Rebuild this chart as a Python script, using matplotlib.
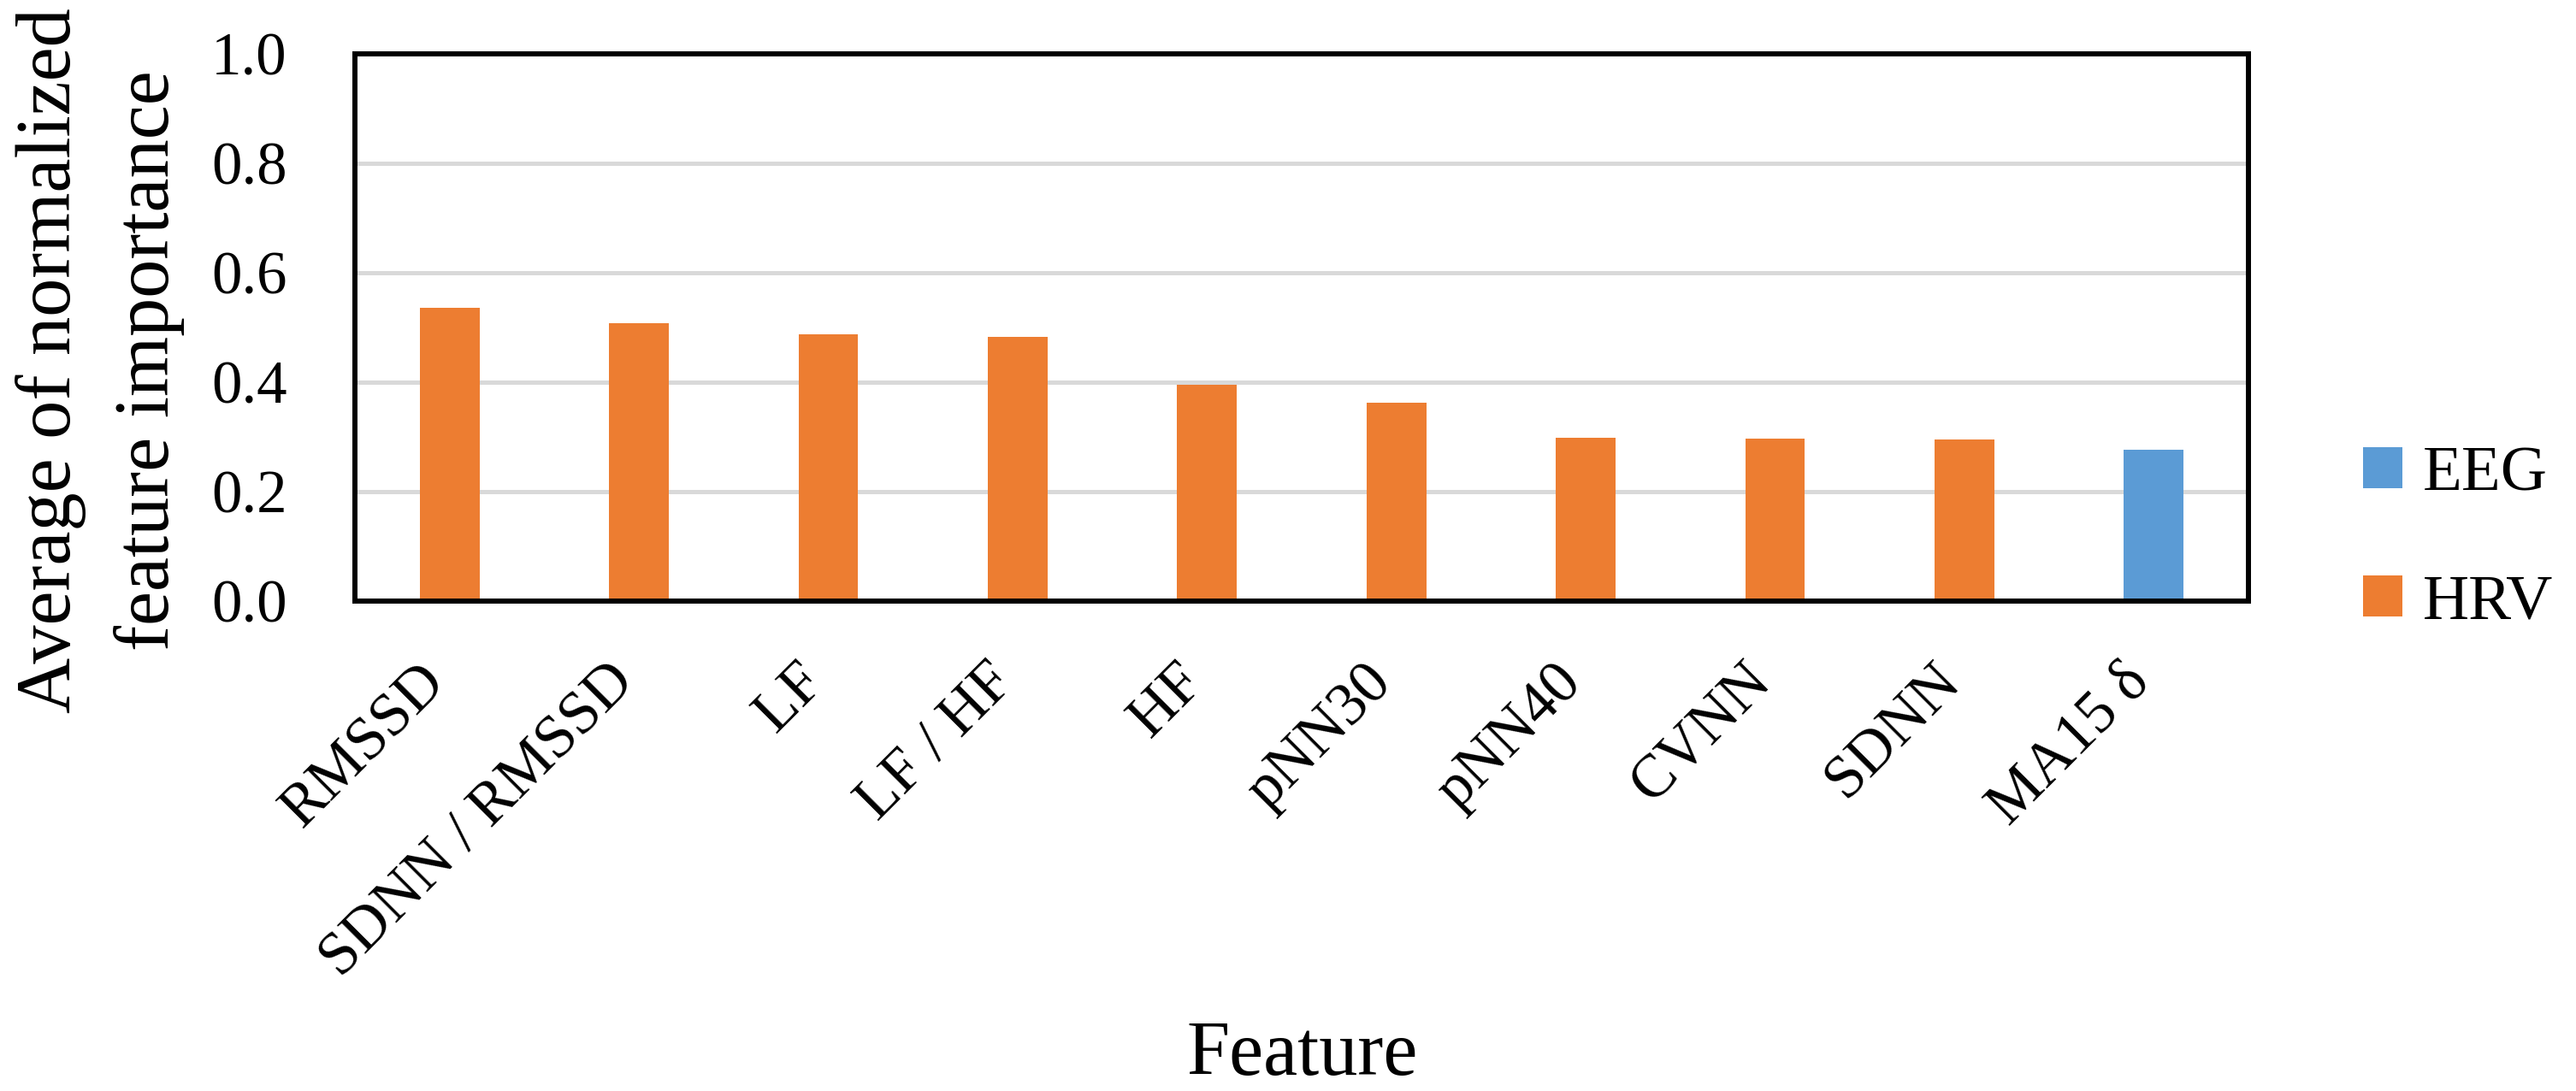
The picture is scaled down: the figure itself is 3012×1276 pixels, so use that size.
import matplotlib
matplotlib.use("Agg")
import matplotlib.pyplot as plt
import matplotlib.transforms as mtransforms
from matplotlib.patches import Patch

plt.rcParams['font.family'] = ['Liberation Serif', 'DejaVu Serif']

features = ["RMSSD", "SDNN / RMSSD", "LF", "LF / HF", "HF", "pNN30", "pNN40", "CVNN", "SDNN", "MA15 δ"]
values = [0.536, 0.508, 0.488, 0.483, 0.396, 0.363, 0.299, 0.297, 0.295, 0.277]
groups = ["HRV", "HRV", "HRV", "HRV", "HRV", "HRV", "HRV", "HRV", "HRV", "EEG"]
legend_groups = ["EEG", "HRV"]
yticks = [0.0, 0.2, 0.4, 0.6, 0.8, 1.0]
ytick_labels = ["0.0", "0.2", "0.4", "0.6", "0.8", "1.0"]
ylabel_lines = ["Average of normalized", "feature importance"]
xlabel = "Feature"

colors = {"EEG": "#5B9BD5", "HRV": "#ED7D31"}

W, H = 3012, 1276
fig = plt.figure(figsize=(W / 100, H / 100), dpi=100)
ax = fig.add_axes([415 / W, 1 - 703 / H, (2629 - 415) / W, (703 - 63) / H])

x = list(range(len(features)))
ax.bar(x, values, width=0.316, color=[colors[g] for g in groups], zorder=3)

ax.set_xlim(-0.5, len(features) - 0.5)
ax.set_ylim(0, 1.0)
ax.set_yticks(yticks)
ax.set_yticklabels(ytick_labels)
ax.set_xticks(x)
ax.set_xticklabels(features, rotation=45, ha='right', va='top')
ax.tick_params(axis='y', length=0, pad=57, labelsize=51)
ax.tick_params(axis='x', length=0, pad=44, labelsize=51)
offset = mtransforms.ScaledTranslation(8 / 100, 0, fig.dpi_scale_trans)
for lbl in ax.get_xticklabels():
    lbl.set_transform(lbl.get_transform() + offset)

ax.yaxis.grid(True, color='#D9D9D9', linewidth=3.6, zorder=0)
ax.set_axisbelow(True)
for s in ax.spines.values():
    s.set_linewidth(4.3)
    s.set_color('black')
    s.set_zorder(5)

# axis titles
fig.text(1523 / W, 1 - 1257 / H, xlabel, fontsize=65, ha='center', va='baseline')
for bx, line in zip([82, 197], ylabel_lines):
    fig.text(bx / W, 1 - 422 / H, line, fontsize=65, rotation=90,
             rotation_mode='anchor', ha='center', va='baseline')

handles = [Patch(facecolor=colors[g], edgecolor='none') for g in legend_groups]
leg = fig.legend(handles, legend_groups, loc='center left',
                 bbox_to_anchor=(2763 / W, 1 - 631 / H), bbox_transform=fig.transFigure,
                 frameon=False, fontsize=54, handlelength=0.61, handleheight=0.61,
                 handletextpad=0.32, labelspacing=1.1, borderpad=0, borderaxespad=0)

fig.savefig("out.png", dpi=100)
